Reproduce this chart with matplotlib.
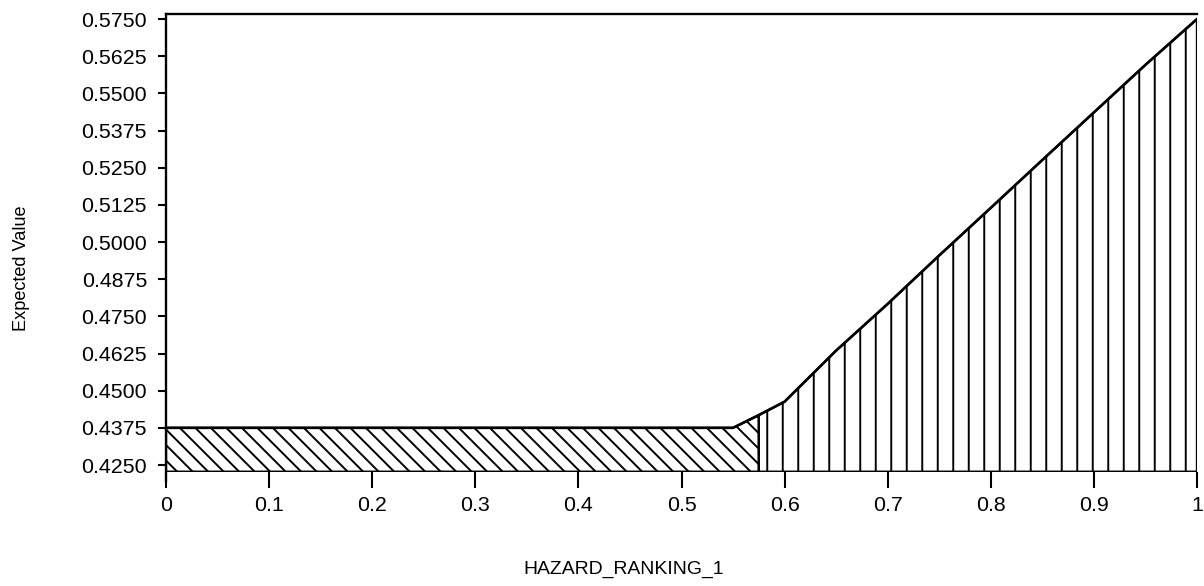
import numpy as np
import matplotlib.pyplot as plt
from matplotlib import rcParams

rcParams['font.family'] = ['Liberation Sans', 'DejaVu Sans']
rcParams['hatch.linewidth'] = 1.5

# sensitivity curve
hazard = [0.0, 0.55, 0.575, 0.6, 0.65, 0.7, 0.75, 0.8, 0.85, 0.9, 0.95, 1.0]
expected = [0.4375, 0.4375, 0.4418, 0.4463, 0.4635, 0.4792, 0.4955, 0.5115,
            0.5276, 0.5436, 0.5596, 0.5750]
split_at = 0.575
base = 0.42275

xticks = [0, 0.1, 0.2, 0.3, 0.4, 0.5, 0.6, 0.7, 0.8, 0.9, 1]
xtick_labels = ['0', '0.1', '0.2', '0.3', '0.4', '0.5', '0.6', '0.7', '0.8', '0.9', '1']
yticks = np.arange(0.425, 0.5751, 0.0125)

DPI = 93
fig = plt.figure(figsize=(1204 / DPI, 586 / DPI), dpi=DPI)
ax = fig.add_axes([166 / 1204, 1 - 471.7 / 586, 1031 / 1204, 457.7 / 586])

x = np.array(hazard)
y = np.array(expected)
left = x <= split_at
right = x >= split_at

ax.fill_between(x[left], base, y[left], facecolor='white', edgecolor='black',
                hatch='\\\\', linewidth=1.8)
ax.fill_between(x[right], base, y[right], facecolor='white', edgecolor='black',
                hatch='|', linewidth=1.8)
ax.plot(x, y, color='black', linewidth=2)

ax.set_xlim(0, 1)
ax.set_ylim(base, 0.5767)

ax.spines['right'].set_visible(False)
ax.spines['bottom'].set_visible(False)
ax.spines['left'].set_linewidth(1.8)
ax.spines['top'].set_linewidth(1.8)
ax.spines['left'].set_bounds(0.4196, 0.5767)

ax.set_xticks(xticks)
ax.set_xticklabels(xtick_labels)
ax.set_yticks(yticks)
ax.set_yticklabels(['%.4f' % v for v in yticks])
ax.tick_params(axis='x', direction='out', length=12.4, width=1.6, pad=6.5, labelsize=16.5)
ax.tick_params(axis='y', direction='out', length=6.2, width=1.6, pad=8.5, labelsize=16.5)

ax.set_xlabel('HAZARD_RANKING_1', fontsize=15, va='center')
ax.xaxis.set_label_coords(0.4437, -0.2126)
ax.set_ylabel('Expected Value', fontsize=14, va='center')
ax.yaxis.set_label_coords(-0.1406, 0.445)

fig.savefig('out.png', dpi=DPI)
